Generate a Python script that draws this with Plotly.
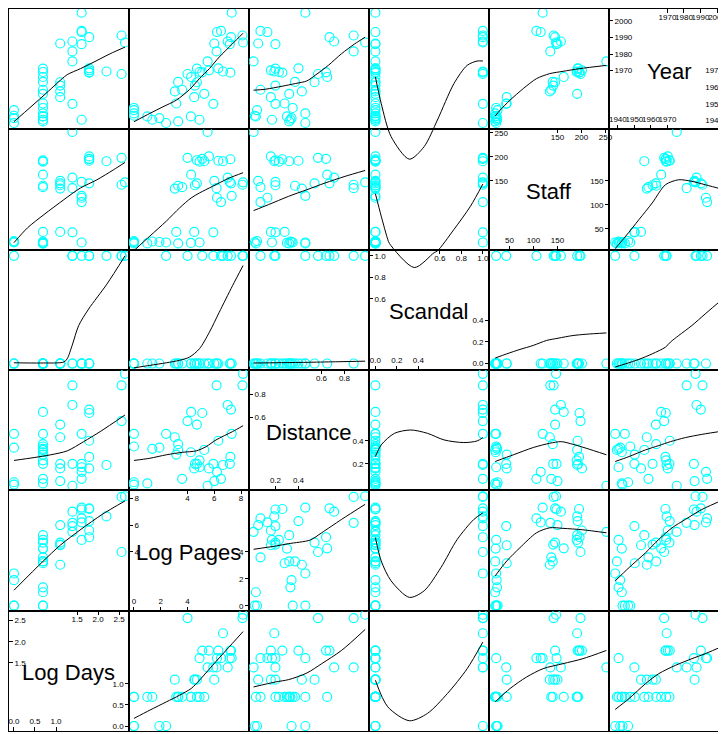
import plotly.graph_objects as go

var_names = ["Log Days", "Log Pages", "Distance", "Scandal", "Staff", "Year"]

year = [1938.4, 1939.4, 1940.4, 1940.4, 1941.4, 1942.4, 1942.4, 1942.8, 1944.2, 1946.2, 1947.5,
        1950.2, 1950.0, 1954.0, 1956.0, 1957.5, 1958.5, 1961.0, 1963.2, 1963.0, 1966.2,
        1969.2, 1969.0, 1970.2, 1971.4, 1969.5, 1968.0, 1971.2, 1968.8, 1975.6, 1981.6,
        1986.4, 1986.0, 1987.6, 1987.0, 1990.2, 1991.2, 1993.3, 1994.0, 2005.0]
log_days = [0.00, 0.69, 1.61, 0.69, 0.00, 0.69, 0.69, 0.00, 0.69, 0.00, 0.69,
            0.69, 1.39, 1.10, 0.69, 1.10, 0.69, 1.10, 0.69, 1.10, 0.69,
            0.69, 1.79, 1.79, 1.79, 2.20, 2.56, 0.69, 1.79, 1.39, 1.39,
            1.10, 1.61, 1.39, 2.64, 1.79, 2.56, 1.61, 1.61, 1.61]
staff = [22, 20, 22, 24, 23, 21, 20, 23, 20, 25, 22,
         44, 43, 44, 191, 134, 137, 141, 140, 145, 163,
         190, 196, 201, 192, 191, 198, 193, 195, 252, 135,
         150, 148, 157, 147, 145, 142, 115, 106, 119]
scandal = [1, 0, 0, 0, 0, 0, 0, 0, 0, 0, 0,
           0, 1, 0, 0, 0, 0, 0, 0, 0, 0,
           0, 1, 0, 0, 1, 1, 0, 0, 0, 0,
           0, 0, 1, 1, 1, 1, 0, 1, 0]
log_pages = [2.40, 3.30, 4.90, 1.37, 1.90, 4.25, 1.00, 0.00, 0.00, 0.00, 0.00,
             3.16, 5.93, 4.50, 5.25, 3.05, 3.60, 4.55, 3.30, 4.70, 4.27,
             4.90, 5.10, 5.60, 6.30, 6.65, 4.00, 4.70, 7.20, 5.50, 6.17,
             6.00, 7.16, 7.00, 8.15, 7.25, 8.10, 6.20, 6.50, 7.30]
distance = [0.46, 0.32, 0.17, 0.33, 0.34, 0.30, 0.03, 0.02, 0.46, 0.04, 0.35,
            0.28, 0.20, 0.16, 0.32, 0.43, 0.07, 0.20, 0.37, 0.54, 0.65,
            0.23, 0.64, 0.16, 0.40, 0.19, 0.57, 0.20, 0.26, 0.01, 0.88,
            0.05, 0.20, 0.71, 0.98, 0.67, 0.88, 0.13, 0.07, 0.46]

data = {"Log Days": log_days, "Log Pages": log_pages, "Distance": distance,
        "Scandal": scandal, "Staff": staff, "Year": year}

# axis limits of each variable
limits = {"Log Days": (-0.118, 2.736), "Log Pages": (-0.37, 8.59), "Distance": (-0.03, 1.013),
          "Scandal": (-0.06, 1.057), "Staff": (7.0, 257.3), "Year": (1934.6, 2007.2)}

# diagonal tick labels: lower half / upper half
diag_low = {"Log Days": [0.0, 0.5, 1.0], "Log Pages": [0, 2, 4], "Distance": [0.2, 0.4],
            "Scandal": [0.0, 0.2, 0.4], "Staff": [50, 100, 150], "Year": [1940, 1950, 1960, 1970]}
diag_high = {"Log Days": [1.5, 2.0, 2.5], "Log Pages": [4, 6, 8], "Distance": [0.6, 0.8],
             "Scandal": [0.6, 0.8, 1.0], "Staff": [150, 200, 250], "Year": [1970, 1980, 1990, 2000]}
diag_fmt = {"Log Days": "{:.1f}", "Log Pages": "{:.0f}", "Distance": "{:.1f}",
            "Scandal": "{:.1f}", "Staff": "{:.0f}", "Year": "{:.0f}"}

# loess smooth curves, (y variable, x variable) -> (x values, fitted y values)
smooth = {
    ("Year", "Log Days"): ([0, 0.715, 1.148, 1.266, 1.58, 1.856, 2.288, 2.64],
                           [1939.2, 1955.2, 1965.2, 1967.6, 1971.2, 1974.6, 1980.2, 1984.2]),
    ("Year", "Log Pages"): ([0.0, 1.19, 2.17, 3.16, 4.15, 4.89, 5.63, 6.37, 7.36, 8.15],
                            [1939.2, 1944.2, 1948.2, 1952.2, 1958.6, 1965.2, 1971.2, 1978.2, 1986.2, 1992.6]),
    ("Year", "Distance"): ([0.01, 0.114, 0.257, 0.372, 0.473, 0.545, 0.66, 0.774, 0.89, 0.98],
                           [1958.2, 1958.8, 1960.6, 1962.2, 1963.8, 1967.2, 1973.2, 1980.2, 1986.2, 1990.2]),
    ("Year", "Scandal"): ([0, 0.054, 0.146, 0.316, 0.454, 0.577, 0.731, 0.854, 0.947, 1.0],
                          [1966.2, 1950.2, 1930.2, 1916.6, 1924.2, 1940.2, 1962.2, 1973.2, 1975.8, 1975.8]),
    ("Year", "Staff"): ([20, 30.4, 51, 78.7, 106.3, 133.8, 161.5, 195.8, 252],
                        [1942.6, 1946.2, 1952.2, 1959.2, 1965.2, 1968.2, 1969.6, 1971.2, 1973.2]),
    ("Staff", "Log Days"): ([0, 0.323, 0.715, 1.187, 1.58, 1.974, 2.365, 2.64],
                            [21.5, 52.5, 80, 111, 135.2, 152.4, 173, 188.4]),
    ("Staff", "Log Pages"): ([0.0, 1.19, 2.42, 3.41, 4.27, 4.89, 5.87, 7.11, 8.15],
                             [5, 35.3, 66.4, 93.9, 114.5, 124.9, 138.7, 155.9, 167]),
    ("Staff", "Distance"): ([0.01, 0.14, 0.315, 0.473, 0.631, 0.804, 0.98],
                            [88.3, 100.7, 118, 131.7, 145.6, 159.4, 171.8]),
    ("Staff", "Scandal"): ([0, 0.054, 0.115, 0.13, 0.362, 0.547, 0.577, 0.731, 0.885, 1.0],
                           [123.4, 76.7, 28.3, 20.0, -30.2, 0.8, 4.3, 49.0, 97.4, 143.5]),
    ("Staff", "Year"): ([1938.4, 1944.8, 1952.8, 1960.8, 1968.8, 1976.8, 1984.8, 1992.8, 2005],
                        [9.1, 35.3, 69.7, 104.2, 142.1, 152.4, 149.1, 142.1, 131]),
    ("Scandal", "Log Days"): ([0, 0.637, 1.187, 1.266, 1.384, 1.54, 1.776, 2.21, 2.64],
                              [0.007, 0.005, 0.014, 0.044, 0.168, 0.353, 0.506, 0.737, 0.999]),
    ("Scandal", "Log Pages"): ([0.0, 1.19, 2.42, 3.41, 4.15, 4.89, 5.63, 6.37, 7.36, 8.15],
                               [-0.04, -0.017, 0.007, 0.03, 0.06, 0.137, 0.29, 0.476, 0.722, 0.91]),
    ("Scandal", "Distance"): ([0.01, 0.25, 0.5, 0.75, 0.98],
                              [0.005, 0.008, 0.012, 0.017, 0.022]),
    ("Scandal", "Staff"): ([20, 44.2, 71.7, 99.4, 127, 151.1, 182.2, 209.7, 252],
                           [0.051, 0.09, 0.131, 0.168, 0.214, 0.235, 0.26, 0.272, 0.284]),
    ("Scandal", "Year"): ([1938.4, 1944.8, 1952.8, 1960.8, 1968.8, 1971.8, 1976.8, 1984.8, 1992.8, 2005],
                          [-0.032, -0.002, 0.039, 0.09, 0.152, 0.199, 0.26, 0.353, 0.46, 0.62]),
    ("Distance", "Log Days"): ([0, 0.479, 0.872, 1.266, 1.658, 2.05, 2.64],
                               [0.229, 0.254, 0.278, 0.312, 0.392, 0.479, 0.623]),
    ("Distance", "Log Pages"): ([0.0, 1.19, 2.42, 3.65, 4.65, 5.39, 6.13, 7.36, 8.15],
                                [0.229, 0.248, 0.278, 0.3, 0.312, 0.349, 0.407, 0.479, 0.53]),
    ("Distance", "Scandal"): ([0, 0.054, 0.177, 0.33, 0.485, 0.639, 0.823, 0.947, 1.0],
                              [0.263, 0.364, 0.464, 0.493, 0.464, 0.407, 0.384, 0.398, 0.427]),
    ("Distance", "Staff"): ([20, 58, 99.4, 133.8, 157.8, 182.2, 209.7, 252],
                            [0.22, 0.278, 0.341, 0.378, 0.392, 0.369, 0.335, 0.278]),
    ("Distance", "Year"): ([1938.4, 1946.8, 1956.8, 1964.8, 1971.8, 1980.8, 1990.8, 2005],
                           [0.22, 0.263, 0.321, 0.358, 0.392, 0.427, 0.455, 0.487]),
    ("Log Pages", "Log Days"): ([0, 0.69, 1.1, 1.6, 2.1, 2.64],
                                [1.15, 3.3, 4.5, 5.7, 6.8, 7.8]),
    ("Log Pages", "Distance"): ([0.01, 0.2, 0.315, 0.502, 0.602, 0.774, 0.98],
                                [4.2, 4.44, 4.62, 4.89, 5.43, 6.42, 7.55]),
    ("Log Pages", "Scandal"): ([0, 0.054, 0.146, 0.316, 0.454, 0.61, 0.762, 0.916, 1.0],
                               [5.06, 3.33, 1.85, 0.62, 1.11, 2.84, 4.94, 6.42, 6.91]),
    ("Log Pages", "Staff"): ([20, 44.2, 71.7, 106.3, 133.8, 161.5, 202.9, 252],
                             [2.22, 3.33, 4.32, 5.43, 5.8, 5.76, 5.65, 5.43]),
    ("Log Pages", "Year"): ([1938.4, 1946.8, 1956.8, 1964.8, 1972.8, 1980.8, 1990.8, 2005],
                            [1.85, 2.84, 3.95, 4.94, 5.8, 6.42, 7.16, 7.95]),
    ("Log Days", "Log Pages"): ([0.0, 1.19, 2.42, 3.41, 4.27, 4.89, 5.87, 6.87, 8.15],
                                [0.181, 0.377, 0.573, 0.731, 0.889, 1.085, 1.439, 1.792, 2.24]),
    ("Log Days", "Distance"): ([0.01, 0.2, 0.315, 0.473, 0.602, 0.774, 0.98],
                               [0.927, 1.045, 1.101, 1.257, 1.479, 1.792, 2.29]),
    ("Log Days", "Scandal"): ([0, 0.115, 0.316, 0.485, 0.67, 0.854, 1.0],
                              [1.085, 0.455, 0.125, 0.30, 0.77, 1.36, 1.99]),
    ("Log Days", "Staff"): ([20, 51, 85.6, 120.1, 161.5, 202.9, 252],
                            [0.573, 0.889, 1.163, 1.361, 1.479, 1.597, 1.792]),
    ("Log Days", "Year"): ([1938.4, 1946.8, 1956.8, 1964.8, 1974.8, 1984.8, 1992.8, 2005],
                           [0.394, 0.653, 1.007, 1.243, 1.439, 1.597, 1.715, 1.92]),
}

# page has an 8px body margin: figure sized to fit the 726x734 window
FIG_W, FIG_H = 718, 726
MB = 3
PXW = 121
PW = FIG_W
PH = FIG_H - MB
PXH = PH / 6


def xdom(c):
    return [PXW * c / PW, min(PW, PXW * (c + 1)) / PW]


def ydom(r):
    return [(PH - PXH * (r + 1)) / PH, (PH - PXH * r) / PH]


def xrange_for(c):
    lo, hi = limits[var_names[c]]
    w = min(PW, PXW * (c + 1)) - PXW * c
    return [lo, lo + (hi - lo) * w / PXW]


def sfx(k):
    return "" if k == 1 else str(k)


fig = go.Figure()
layout = {}
annotations = []
marker = dict(symbol="circle-open", size=9, color="#00ffff", line=dict(width=1.15, color="#00ffff"))
tickfont = dict(size=8, color="black", family="Liberation Sans, Arial, sans-serif")
line_style = dict(color="black", width=1, shape="spline", smoothing=0.8)
BORDER = 1.3

extra = 37
for r in range(6):
    for c in range(6):
        k = r * 6 + c + 1
        xv = var_names[c]
        yv = var_names[5 - r]
        xr = xrange_for(c)
        yr = list(limits[yv])
        xa = dict(domain=xdom(c), range=xr, anchor="y" + sfx(k), showgrid=False, zeroline=False,
                  showline=True, mirror=True, linecolor="black", linewidth=BORDER, ticks="",
                  showticklabels=False, fixedrange=True)
        ya = dict(domain=ydom(r), range=yr, anchor="x" + sfx(k), showgrid=False, zeroline=False,
                  showline=True, mirror=(c != 5), linecolor="black", linewidth=BORDER, ticks="",
                  showticklabels=False, fixedrange=True)
        if c == 5 - r:
            v = xv
            fmt = diag_fmt[v]
            common = dict(ticks="inside", ticklen=4, tickcolor="black", tickwidth=1,
                          showticklabels=True, ticklabelposition="inside", tickfont=tickfont,
                          tickangle=0, ticklabeloverflow="allow")
            xa.update(common, tickvals=diag_low[v], ticktext=[fmt.format(t) for t in diag_low[v]])
            ya.update(common, tickvals=diag_high[v], ticktext=[fmt.format(t) for t in diag_high[v]])
            layout["xaxis" + str(extra)] = dict(
                common, overlaying="x" + sfx(k), side="top", anchor="y" + sfx(k), range=xr,
                tickvals=diag_high[v], ticktext=[fmt.format(t) for t in diag_high[v]],
                showline=False, showgrid=False, zeroline=False, fixedrange=True)
            right = dict(common, overlaying="y" + sfx(k), side="right", anchor="x" + sfx(k), range=yr,
                         tickvals=diag_low[v], ticktext=[fmt.format(t) for t in diag_low[v]],
                         showline=False, showgrid=False, zeroline=False, fixedrange=True)
            if c == 5:
                # the real right edge of this panel lies just outside the window
                right.update(ticks="", ticklabelstandoff=-5)
            layout["yaxis" + str(extra)] = right
            fig.add_trace(go.Scatter(x=[None], y=[None], xaxis="x" + str(extra), yaxis="y" + sfx(k),
                                     mode="markers", hoverinfo="skip"))
            fig.add_trace(go.Scatter(x=[None], y=[None], xaxis="x" + sfx(k), yaxis="y" + str(extra),
                                     mode="markers", hoverinfo="skip"))
            extra += 1
            wpx = min(PW, PXW * (c + 1)) - PXW * c
            annotations.append(dict(text=v, xref="x" + sfx(k) + " domain", yref="y" + sfx(k) + " domain",
                                    x=(PXW / 2) / wpx, y=0.5, yshift=-2, showarrow=False,
                                    font=dict(size=22, color="black",
                                              family="Liberation Sans, Arial, sans-serif")))
        else:
            fig.add_trace(go.Scatter(x=data[xv], y=data[yv], mode="markers", marker=marker,
                                     xaxis="x" + sfx(k), yaxis="y" + sfx(k), hoverinfo="skip"))
            sx, sy = smooth[(yv, xv)]
            if xv == "Scandal" and yv in ("Year", "Staff"):
                # this smooth spills below its panel: draw it on a taller, invisible, unclipped subplot
                lo, hi = limits[yv]
                d0, d1 = ydom(r)
                layout["xaxis" + str(extra)] = dict(domain=xdom(c), range=xr, anchor="y" + str(extra),
                                                    visible=False, fixedrange=True)
                layout["yaxis" + str(extra)] = dict(domain=[d0 - PXH / PH, d1], range=[lo - (hi - lo), hi],
                                                    anchor="x" + str(extra), visible=False, fixedrange=True)
                fig.add_trace(go.Scatter(x=sx, y=sy, mode="lines", line=line_style,
                                         xaxis="x" + str(extra), yaxis="y" + str(extra), hoverinfo="skip"))
                extra += 1
            else:
                fig.add_trace(go.Scatter(x=sx, y=sy, mode="lines", line=line_style,
                                         xaxis="x" + sfx(k), yaxis="y" + sfx(k), hoverinfo="skip"))
        layout["xaxis" + sfx(k)] = xa
        layout["yaxis" + sfx(k)] = ya

fig.update_layout(**layout)
fig.update_layout(width=FIG_W, height=FIG_H, margin=dict(l=0, r=0, t=0, b=MB, pad=0),
                  paper_bgcolor="white", plot_bgcolor="rgba(0,0,0,0)", showlegend=False,
                  font=dict(family="Liberation Sans, Arial, sans-serif", size=8, color="black"),
                  annotations=annotations)
fig.write_html("out.html")
